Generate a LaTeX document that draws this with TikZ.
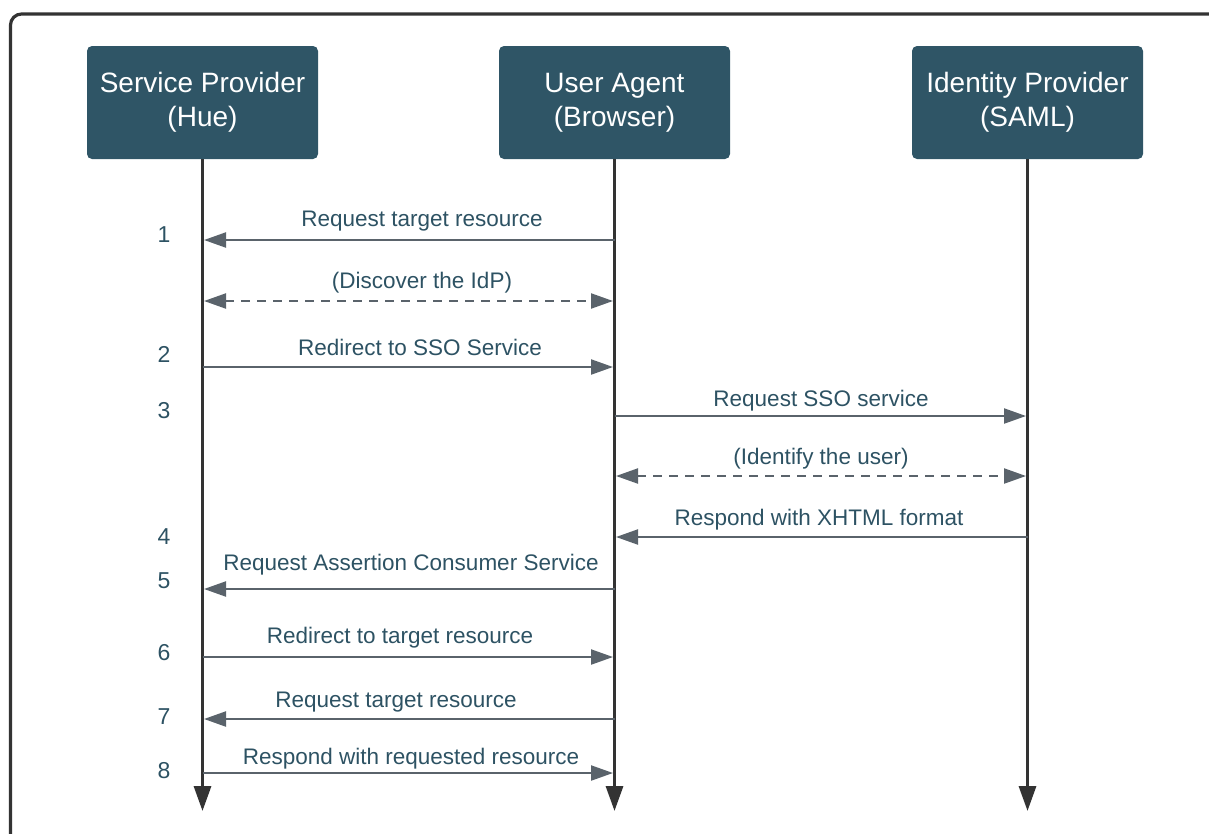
\documentclass[tikz,border=0pt]{standalone}
\usepackage{fontspec}
\setmainfont{Liberation Sans}
\usetikzlibrary{arrows.meta}
\definecolor{boxfill}{HTML}{2F5566}
\definecolor{txt}{HTML}{2D5263}
\definecolor{msg}{HTML}{5A636B}
\definecolor{life}{HTML}{333333}
\tikzset{
  actor/.style={fill=boxfill, rounded corners=5pt, minimum width=231pt, minimum height=113pt,
    text=white, font=\fontsize{28}{34}\selectfont, align=center, inner sep=0pt},
  lifeline/.style={draw=life, line width=3.2pt, -{Triangle[length=25pt,width=17pt]}},
  message/.style={draw=msg, line width=2.2pt, -{Triangle[length=22pt,width=15pt]}, shorten >=1.5pt},
  both/.style={draw=msg, line width=2.2pt, {Triangle[length=22pt,width=15pt]}-{Triangle[length=22pt,width=15pt]}, dash pattern=on 9pt off 7pt, shorten >=1.5pt, shorten <=1.5pt},
  lbl/.style={text=txt, font=\fontsize{22.5}{26}\selectfont, inner sep=0pt, anchor=base},
  num/.style={text=txt, font=\fontsize{23}{27}\selectfont, inner sep=0pt},
}
\begin{document}
\begin{tikzpicture}[x=1pt,y=-1pt]
\useasboundingbox (0,0) rectangle (1209,833);
\begin{scope}
\clip (0,0) rectangle (1209,833);
\draw[draw=life, line width=3.2pt, rounded corners=11pt] (10.5,14) rectangle (1240,860);
\end{scope}
% actors
\node[actor] (sp) at (202.5,102.5) {Service Provider\\(Hue)};
\node[actor] (ua) at (614.5,102.5) {User Agent\\(Browser)};
\node[actor] (idp) at (1027.5,102.5) {Identity Provider\\(SAML)};
% lifeline ends
\coordinate (spE) at (sp.south |- 0,811);
\coordinate (uaE) at (ua.south |- 0,811);
\coordinate (idpE) at (idp.south |- 0,811);
\draw[lifeline] (sp.south) -- (spE);
\draw[lifeline] (ua.south) -- (uaE);
\draw[lifeline] (idp.south) -- (idpE);
% row coordinates
\foreach \n/\y in {1/240,d1/301,2/367,3/416,d2/476,4/537,5/589,6/657,7/719,8/773}{
  \coordinate (s\n) at (sp.south |- 0,\y);
  \coordinate (u\n) at (ua.south |- 0,\y);
  \coordinate (i\n) at (idp.south |- 0,\y);
}
% messages
\draw[message] (u1) -- (s1);
\draw[both] (sd1) -- (ud1);
\draw[message] (s2) -- (u2);
\draw[message] (u3) -- (i3);
\draw[both] (ud2) -- (id2);
\draw[message] (i4) -- (u4);
\draw[message] (u5) -- (s5);
\draw[message] (s6) -- (u6);
\draw[message] (u7) -- (s7);
\draw[message] (s8) -- (u8);
% labels
\node[lbl] (l1) at (422,226) {Request target resource};
\node[lbl] (ld1) at (422,288) {(Discover the IdP)};
\node[lbl] (l2) at (420,355) {Redirect to SSO Service};
\node[lbl] (l3) at (821,406) {Request SSO service};
\node[lbl] (ld2) at (821,464) {(Identify the user)};
\node[lbl] (l4) at (819,525) {Respond with XHTML format};
\node[lbl] (l5) at (411,570) {Request Assertion Consumer Service};
\node[lbl] (l6) at (400,643) {Redirect to target resource};
\node[lbl] (l7) at (396,707) {Request target resource};
\node[lbl] (l8) at (411,764) {Respond with requested resource};
% numbers
\node[num] (n1) at (164,235) {1};
\node[num] (n2) at (164,354) {2};
\node[num] (n3) at (164,411) {3};
\node[num] (n4) at (164,537) {4};
\node[num] (n5) at (164,581) {5};
\node[num] (n6) at (164,653) {6};
\node[num] (n7) at (164,717) {7};
\node[num] (n8) at (164,771) {8};
\end{tikzpicture}
\end{document}
